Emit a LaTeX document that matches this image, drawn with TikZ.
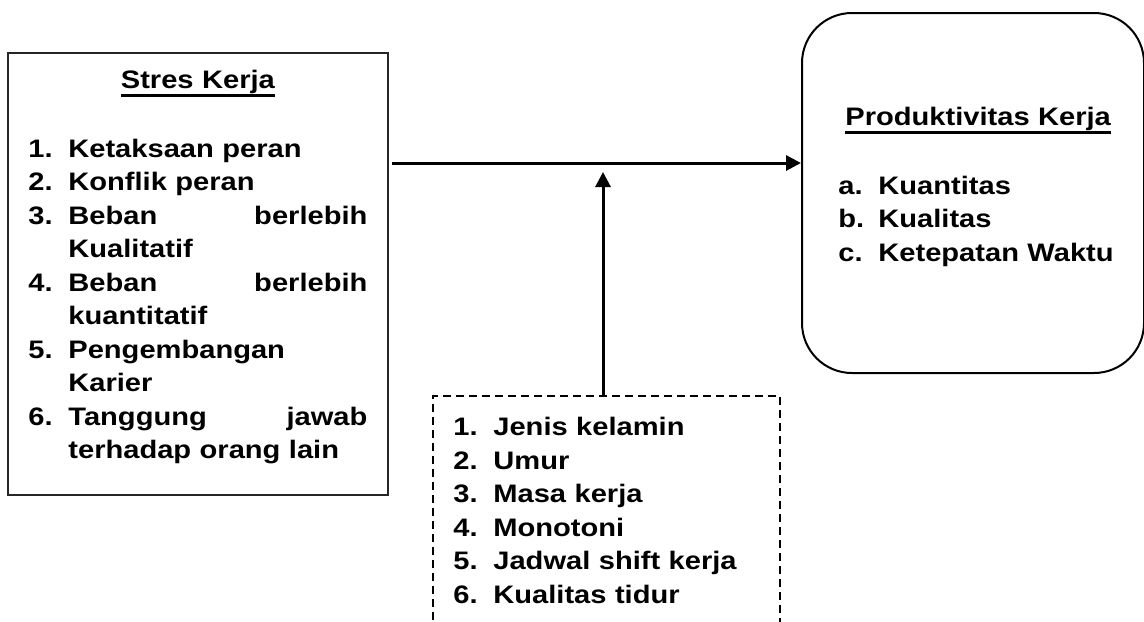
\documentclass[tikz,border=0pt]{standalone}
\usepackage{fontspec}
\setmainfont{Liberation Sans}[FakeStretch=1.15]
\usepackage{tikz}
\usetikzlibrary{arrows.meta,calc}
\newcommand{\garisbawah}[1]{\setbox0=\hbox{#1}\rlap{\copy0}\rule[-4.2pt]{\wd0}{1.1pt}}
\newcommand{\butir}[2]{\par\noindent\hangindent=20pt\hangafter=1\makebox[20pt][l]{#1}#2\par}
\tikzstyle{kotak} = [rectangle, draw=black!85, line width=1pt, anchor=north west]
\tikzstyle{kotakbulat} = [rectangle, draw, line width=1pt, rounded corners=25pt, anchor=north west]
\tikzstyle{kotakputus} = [rectangle, draw, line width=1pt, dash pattern=on 4pt off 2.5pt, anchor=north west]
\tikzstyle{teks} = [anchor=north west, inner sep=0pt, align=left, font=\fontsize{12.65pt}{16.75pt}\selectfont\bfseries]
\tikzstyle{panah} = [line width=1.5pt, -{Triangle[length=7.5pt,width=7.5pt]}]

\begin{document}
\begin{tikzpicture}[x=0.5pt, y=-0.5pt]
            \useasboundingbox (0,0) rectangle (1144,621);
            \clip (0,0) rectangle (1144,621);
            \node (stres) [kotak, minimum width=190pt, minimum height=221pt] at (7,52) {};
            \node (stresteks) [teks, text width=169.5pt] at (28,69.5) {
                \noindent\makebox[\hsize]{\garisbawah{Stres Kerja}}\par\vspace{17.75pt}
                \butir{1.}{Ketaksaan peran}
                \butir{2.}{Konflik peran}
                \butir{3.}{Beban \hfill berlebih\break Kualitatif}
                \butir{4.}{Beban \hfill berlebih\break kuantitatif}
                \butir{5.}{Pengembangan\hfill\break Karier}
                \butir{6.}{Tanggung \hfill jawab\break terhadap orang lain}
            };
            \node (produk) [kotakbulat, minimum width=171pt, minimum height=180pt] at (801,12) {};
            \node (produkteks) [teks, text width=150pt] at (838,106.5) {
                \noindent\hspace*{3.5pt}\garisbawah{Produktivitas Kerja}\par\vspace{17.75pt}
                \butir{a.}{Kuantitas}
                \butir{b.}{Kualitas}
                \butir{c.}{Ketepatan Waktu}
            };
            \node (faktor) [kotakputus, minimum width=173.5pt, minimum height=130pt] at (432,395) {};
            \node (faktorteks) [teks, text width=160pt] at (453,402) {
                \butir{1.}{Jenis kelamin}
                \butir{2.}{Umur}
                \butir{3.}{Masa kerja}
                \butir{4.}{Monotoni}
                \butir{5.}{Jadwal shift kerja}
                \butir{6.}{Kualitas tidur}
            };
            \coordinate (temu) at (603,163);
            \draw [panah, shorten <=1.5pt] (stres.east |- temu) -- (produk.west |- temu);
            \draw [panah, shorten >=4.5pt] (faktor.north -| temu) -- (temu);
        \end{tikzpicture}
\end{document}
